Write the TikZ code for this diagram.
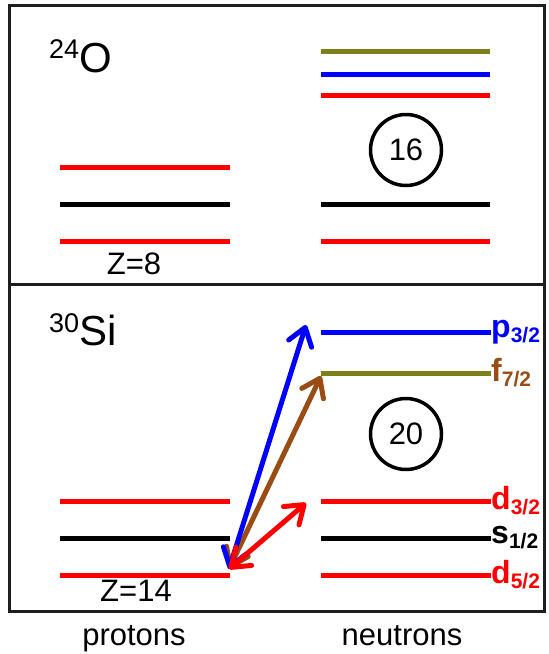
\documentclass[tikz,border=0pt]{standalone}
\usepackage{fontspec}
\setmainfont{Liberation Sans}
\usetikzlibrary{arrows.meta}
\definecolor{lvred}{HTML}{FF0000}
\definecolor{lvblue}{HTML}{0000FF}
\definecolor{lvolive}{HTML}{7F7F1A}
\definecolor{lvbrown}{HTML}{994C14}
\definecolor{boxgray}{HTML}{1E1E1E}
\newcommand{\orb}[2]{\textbf{#1\raisebox{-5pt}{\fontsize{21}{21}\selectfont #2}}}

\begin{document}
\begin{tikzpicture}[x=1pt,y=-1pt,
  >={Straight Barb[length=17pt,width=24pt,line cap=round,line join=round]},
  level/.style={line width=5pt},
  panel/.style={line width=3pt,boxgray},
  magic/.style={circle,draw,line width=3.5pt,minimum size=71pt,inner sep=0pt,font=\fontsize{31}{31}\selectfont},
  txt/.style={inner sep=0pt,font=\fontsize{31}{31}\selectfont},
  nucl/.style={anchor=base west,inner sep=0pt,font=\fontsize{42}{42}\selectfont},
  orbit/.style={anchor=west,inner sep=0pt,font=\fontsize{32}{32}\selectfont},
  jump/.style={<->,line width=5pt}]
  \useasboundingbox (0,0) rectangle (549,654);
  % the two panels
  \draw[panel] (9,5) rectangle (544,284);
  \draw[panel] (9,284) rectangle (544,611);

  % 24O
  \node[nucl] (oxy) at (49,72) {\raisebox{14pt}{\fontsize{27}{27}\selectfont 24}O};
  \foreach \y/\c in {241/lvred,204/black,167/lvred}
    \draw[level,\c] (60,\y) -- (230,\y);
  \foreach \y/\c in {241/lvred,204/black,95/lvred,74/lvblue,51/lvolive}
    \draw[level,\c] (321,\y) -- (490,\y);
  \node[magic] (n16) at (406,150) {16};
  \node[txt] (z8) at (134,264) {Z=8};

  % 30Si
  \node[nucl] (sil) at (49,345) {\raisebox{13pt}{\fontsize{27}{27}\selectfont 30}Si};
  \foreach \y/\c in {575/lvred,538/black,501/lvred}
    \draw[level,\c] (60,\y) -- (230,\y);
  \node[orbit,lvblue] (p32) at (491,332) {\orb{p}{3/2}};
  \node[orbit,lvbrown] (f72) at (491,373) {\orb{f}{7/2}};
  \node[orbit,lvred] (d32) at (491,501) {\orb{d}{3/2}};
  \node[orbit] (s12) at (491,538) {\orb{s}{1/2}};
  \node[orbit,lvred] (d52) at (491,575) {\orb{d}{5/2}};
  \draw[level,lvblue] (321,332) -- (p32.west);
  \draw[level,lvolive] (321,373) -- (f72.west);
  \draw[level,lvred] (321,501) -- (d32.west);
  \draw[level,black] (321,538) -- (s12.west);
  \draw[level,lvred] (321,575) -- (d52.west);
  \node[magic] (n20) at (406,434) {20};
  \node[txt] (z14) at (136,591) {Z=14};

  % excitations
  \coordinate (hole) at (229,569);
  \coordinate (upP) at (306,325);
  \coordinate (upF) at (321,376);
  \coordinate (upD) at (306,503);
  \draw[jump,lvbrown] (hole) -- (upF);
  \draw[jump,lvblue] (hole) -- (upP);
  \draw[jump,lvred] (hole) -- (upD);

  \node[txt,anchor=base] (prot) at (134,645) {protons};
  \node[txt,anchor=base] (neut) at (402,645) {neutrons};
\end{tikzpicture}
\end{document}
